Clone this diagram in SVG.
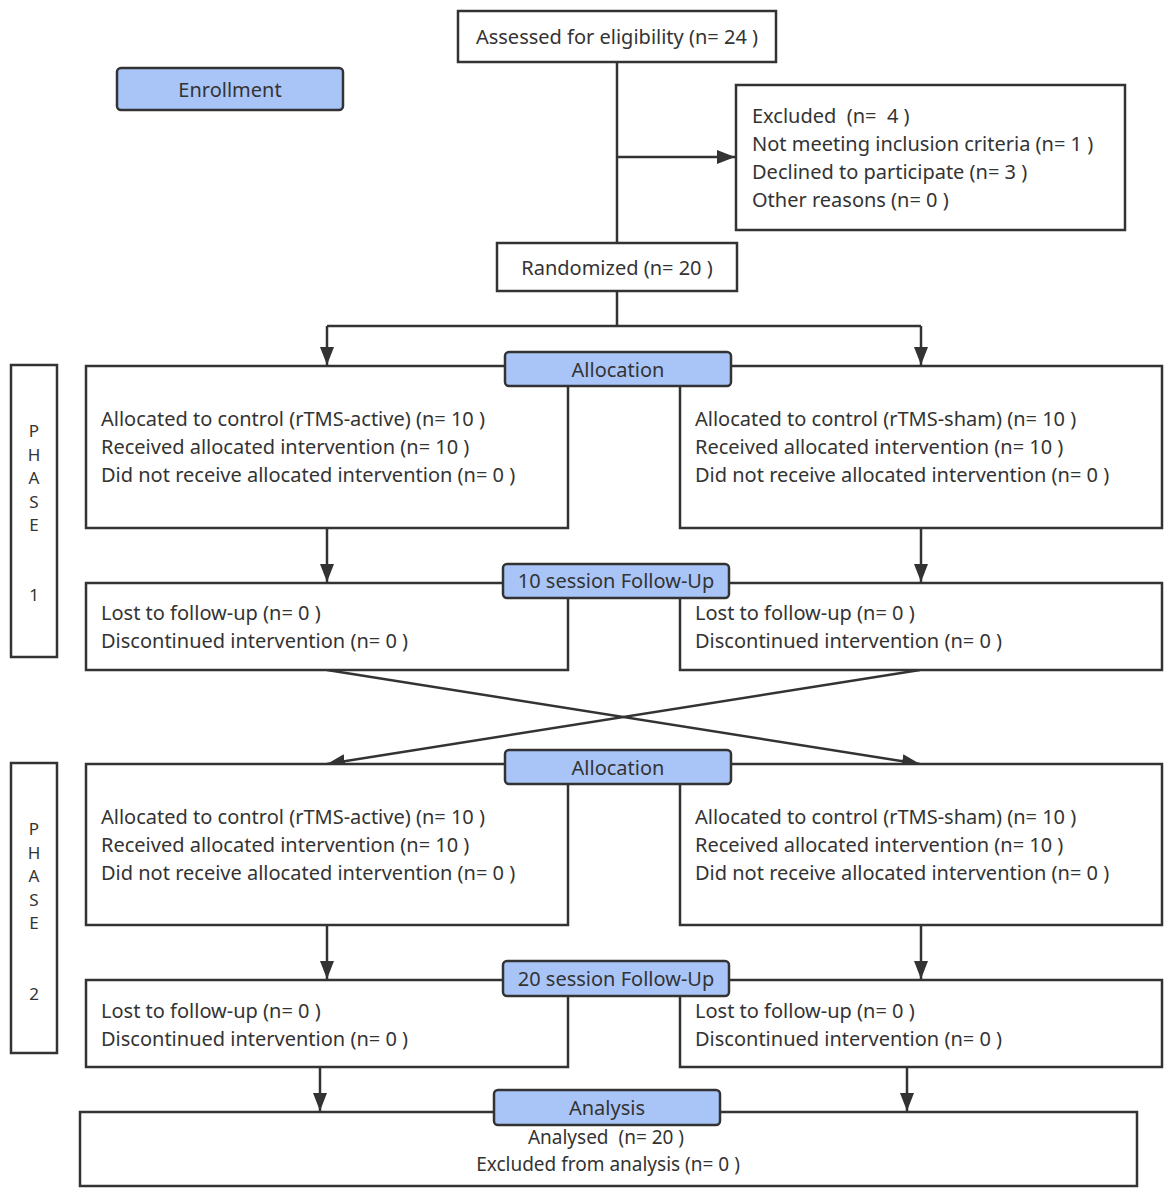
<svg xmlns="http://www.w3.org/2000/svg" width="1170" height="1199" viewBox="0 0 1170 1199">
<defs>
<style>
.box{fill:#fff;stroke:#333;stroke-width:2.5}
.lab{fill:#a9c5f7;stroke:#333;stroke-width:2.5}
.t{font-family:"Noto Sans","Open Sans",sans-serif;font-size:20px;fill:#333;white-space:pre}
.s{font-size:19px}
.p{font-family:"Noto Sans","Open Sans",sans-serif;font-size:17px;fill:#333;text-anchor:middle}
.m{text-anchor:middle}
.c{fill:none;stroke:#333;stroke-width:2.5}
</style>
<marker id="ah" viewBox="0 0 18 14" refX="18" refY="7" markerWidth="18" markerHeight="14" markerUnits="userSpaceOnUse" orient="auto">
<path d="M0,0 L18,7 L0,14 Z" fill="#333"/>
</marker>
</defs>
<rect width="1170" height="1199" fill="#fff"/>
<g id="connectors">
<path class="c" d="M617,62 V243"/>
<path class="c" d="M617,157 H735" marker-end="url(#ah)"/>
<path class="c" d="M617,291 V326 M327,326 H921"/>
<path class="c" d="M327,326 V365" marker-end="url(#ah)"/>
<path class="c" d="M921,326 V365" marker-end="url(#ah)"/>
<path class="c" d="M327,528 V582" marker-end="url(#ah)"/>
<path class="c" d="M921,528 V582" marker-end="url(#ah)"/>
<path class="c" d="M327,670 L920,764" marker-end="url(#ah)"/>
<path class="c" d="M920,670 L327,764" marker-end="url(#ah)"/>
<path class="c" d="M327,925 V979" marker-end="url(#ah)"/>
<path class="c" d="M921,925 V979" marker-end="url(#ah)"/>
<path class="c" d="M320,1067 V1111" marker-end="url(#ah)"/>
<path class="c" d="M907,1067 V1111" marker-end="url(#ah)"/>
</g>
<g id="assessed"><rect class="box" x="458" y="11" width="318" height="51"/><text class="t m" x="617" y="44">Assessed for eligibility (n= 24 )</text></g>
<g id="enrollment"><rect class="lab" x="117" y="68" width="226" height="42" rx="4"/><text class="t m" x="230" y="97">Enrollment</text></g>
<g id="excluded"><rect class="box" x="736" y="85" width="389" height="145"/>
<text class="t" x="752" y="123">Excluded  (n=  4 )</text>
<text class="t" x="752" y="151">Not meeting inclusion criteria (n= 1 )</text>
<text class="t" x="752" y="179">Declined to participate (n= 3 )</text>
<text class="t" x="752" y="207">Other reasons (n= 0 )</text></g>
<g id="randomized"><rect class="box" x="497" y="243" width="240" height="48"/><text class="t m" x="617" y="275">Randomized (n= 20 )</text></g>
<g id="phase1"><rect class="box" x="11" y="365" width="46" height="292"/>
<text class="p" x="34" y="437">P</text><text class="p" x="34" y="461">H</text><text class="p" x="34" y="484">A</text><text class="p" x="34" y="508">S</text><text class="p" x="34" y="531">E</text><text class="p" x="34" y="601">1</text></g>
<g id="alloc1-left"><rect class="box" x="86" y="366" width="482" height="162"/>
<text class="t" x="101" y="426">Allocated to control (rTMS-active) (n= 10 )</text>
<text class="t" x="101" y="454">Received allocated intervention (n= 10 )</text>
<text class="t" x="101" y="482">Did not receive allocated intervention (n= 0 )</text></g>
<g id="alloc1-right"><rect class="box" x="680" y="366" width="482" height="162"/>
<text class="t" x="695" y="426">Allocated to control (rTMS-sham) (n= 10 )</text>
<text class="t" x="695" y="454">Received allocated intervention (n= 10 )</text>
<text class="t" x="695" y="482">Did not receive allocated intervention (n= 0 )</text></g>
<g id="allocation1"><rect class="lab" x="505" y="352" width="226" height="34" rx="4"/><text class="t m" x="618" y="377">Allocation</text></g>
<g id="fu1-left"><rect class="box" x="86" y="583" width="482" height="87"/>
<text class="t" x="101" y="620">Lost to follow-up (n= 0 )</text>
<text class="t" x="101" y="648">Discontinued intervention (n= 0 )</text></g>
<g id="fu1-right"><rect class="box" x="680" y="583" width="482" height="87"/>
<text class="t" x="695" y="620">Lost to follow-up (n= 0 )</text>
<text class="t" x="695" y="648">Discontinued intervention (n= 0 )</text></g>
<g id="session10"><rect class="lab" x="503" y="564" width="226" height="34" rx="4"/><text class="t m" x="616" y="588">10 session Follow-Up</text></g>
<g id="phase2"><rect class="box" x="11" y="763" width="46" height="290"/>
<text class="p" x="34" y="835">P</text><text class="p" x="34" y="859">H</text><text class="p" x="34" y="882">A</text><text class="p" x="34" y="906">S</text><text class="p" x="34" y="929">E</text><text class="p" x="34" y="1000">2</text></g>
<g id="alloc2-left"><rect class="box" x="86" y="764" width="482" height="161"/>
<text class="t" x="101" y="824">Allocated to control (rTMS-active) (n= 10 )</text>
<text class="t" x="101" y="852">Received allocated intervention (n= 10 )</text>
<text class="t" x="101" y="880">Did not receive allocated intervention (n= 0 )</text></g>
<g id="alloc2-right"><rect class="box" x="680" y="764" width="482" height="161"/>
<text class="t" x="695" y="824">Allocated to control (rTMS-sham) (n= 10 )</text>
<text class="t" x="695" y="852">Received allocated intervention (n= 10 )</text>
<text class="t" x="695" y="880">Did not receive allocated intervention (n= 0 )</text></g>
<g id="allocation2"><rect class="lab" x="505" y="750" width="226" height="34" rx="4"/><text class="t m" x="618" y="775">Allocation</text></g>
<g id="fu2-left"><rect class="box" x="86" y="980" width="482" height="87"/>
<text class="t" x="101" y="1018">Lost to follow-up (n= 0 )</text>
<text class="t" x="101" y="1046">Discontinued intervention (n= 0 )</text></g>
<g id="fu2-right"><rect class="box" x="680" y="980" width="482" height="87"/>
<text class="t" x="695" y="1018">Lost to follow-up (n= 0 )</text>
<text class="t" x="695" y="1046">Discontinued intervention (n= 0 )</text></g>
<g id="session20"><rect class="lab" x="503" y="961" width="226" height="35" rx="4"/><text class="t m" x="616" y="986">20 session Follow-Up</text></g>
<g id="analysis-box"><rect class="box" x="80" y="1112" width="1057" height="74"/>
<text class="t s m" x="606" y="1144">Analysed  (n= 20 )</text>
<text class="t s m" x="608" y="1171">Excluded from analysis (n= 0 )</text></g>
<g id="analysis"><rect class="lab" x="494" y="1090" width="226" height="35" rx="4"/><text class="t m" x="607" y="1115">Analysis</text></g>
</svg>
